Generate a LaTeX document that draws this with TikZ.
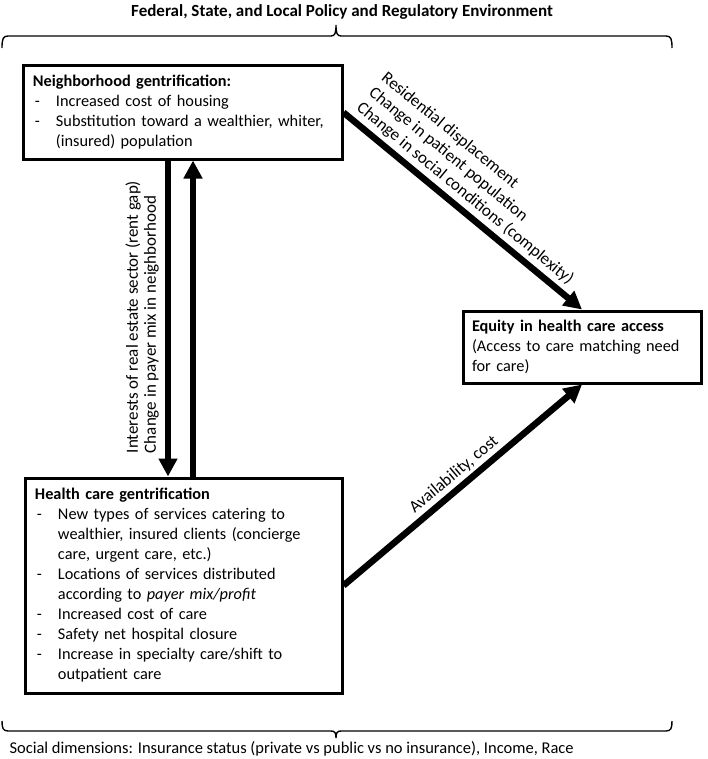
\documentclass[tikz,border=0pt]{standalone}
\usepackage{fontspec}
\setmainfont{Carlito}
\usetikzlibrary{arrows.meta}

\newenvironment{dashlist}{\noindent\begin{tabular}{@{\hspace{2bp}}p{21bp}@{}l@{}}}{\end{tabular}}

\begin{document}
\begin{tikzpicture}[x = 1bp, y = -1bp,
                    box/.style = {draw, line width = 3bp, align = left, inner xsep = 9bp, inner ysep = 0bp,
                                  font = \fontsize{16.3bp}{20bp}\selectfont},
                    bigarrow/.style = {line width = 6.5bp, -{Triangle[length = 18bp, width = 18bp]}},
                    brace/.style = {line width = 1.4bp},
                    slopetext/.style = {sloped, align = left, inner sep = 0bp,
                                        font = \fontsize{17bp}{19.5bp}\selectfont},
                    vlabel/.style = {rotate = 90, anchor = south, align = left, inner sep = 0bp,
                                     font = \fontsize{17bp}{18bp}\selectfont}]
  \useasboundingbox (0, 0) rectangle (708, 759);

  \node [font = \fontsize{17bp}{20bp}\selectfont\bfseries] (policy) at (342, 12)
    {Federal, State, and Local Policy and Regulatory Environment};
  \draw [brace] (2, 48) .. controls (2, 39) and (3, 36) .. (8, 36) -- (331, 36)
    .. controls (335, 36) and (336, 33) .. (336, 25)
    .. controls (336, 33) and (337, 36) .. (341, 36) -- (666, 36)
    .. controls (671, 36) and (672, 39) .. (672, 48);

  \node [box, text width = 300bp, minimum height = 93bp] (nbhd) at (183, 112.5)
    {\begin{dashlist}
       \multicolumn{2}{@{}l@{}}{\textbf{Neighborhood gentrification:}}\\
       - & Increased cost of housing\\
       - & Substitution toward a wealthier, whiter,\\
         & (insured) population
     \end{dashlist}};

  \node [box, text width = 298bp, minimum height = 215bp] (hc) at (184, 585.5)
    {\begin{dashlist}
       \multicolumn{2}{@{}l@{}}{\textbf{Health care gentrification}}\\
       - & New types of services catering to\\
         & wealthier, insured clients (concierge\\
         & care, urgent care, etc.)\\
       - & Locations of services distributed\\
         & according to \textit{payer mix/profit}\\
       - & Increased cost of care\\
       - & Safety net hospital closure\\
       - & Increase in specialty care/shift to\\
         & outpatient care
     \end{dashlist}};

  \node [box, text width = 220bp, minimum height = 72bp] (equity) at (582, 347)
    {\noindent\textbf{Equity in health care access}\\(Access to care matching need\\for care)};

  \coordinate (down) at (168, 0);
  \coordinate (up) at (193, 0);
  \draw [bigarrow] (nbhd.south -| down) -- (hc.north -| down);
  \draw [bigarrow] (hc.north -| up) -- (nbhd.south -| up);
  \node [vlabel] (rentgap) at (159, 317)
    {Interests of real estate sector (rent gap)\\Change in payer mix in neighborhood};

  \draw [bigarrow] (nbhd.east) -- node [slopetext, above = 4bp, pos = 0.47] (displace)
    {Residential displacement\\Change in patient population\\Change in social conditions (complexity)} (equity.north);
  \draw [bigarrow] (hc.east) -- node [slopetext, above = 3bp, pos = 0.5] (avail)
    {Availability, cost} (equity.south);

  \draw [brace] (2, 721) .. controls (2, 728) and (3, 731) .. (8, 731) -- (331, 731)
    .. controls (335, 731) and (336, 733) .. (336, 738)
    .. controls (336, 733) and (337, 731) .. (341, 731) -- (666, 731)
    .. controls (671, 731) and (672, 728) .. (672, 721);
  \node [anchor = west, font = \fontsize{16.5bp}{18bp}\selectfont] (social) at (6, 749)
    {Social dimensions: Insurance status (private vs public vs no insurance), Income, Race};
\end{tikzpicture}
\end{document}
